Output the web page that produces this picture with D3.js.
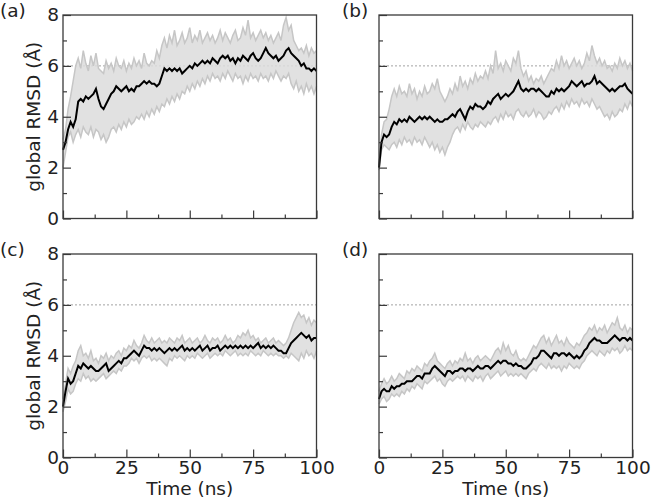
<!DOCTYPE html>
<html>
<head>
<meta charset="utf-8">
<script src="https://cdn.jsdelivr.net/npm/d3@7"></script>
<style>
  body { margin: 0; background: #fff; }
  svg { display: block; font-family: "DejaVu Sans", sans-serif; }
</style>
</head>
<body>
<svg id="chart" width="652" height="501"></svg>
<script>
// sampling grid, ns
const TIME = d3.range(0, 101);
const X_MAJOR = [0, 25, 50, 75, 100];
const X_MINOR = [12.5, 37.5, 62.5, 87.5];
const Y_MAJOR = [0, 2, 4, 6, 8];
const Y_MINOR = [1, 3, 5, 7];
const THRESHOLD = 6;
const LABELS = ["(a)", "(b)", "(c)", "(d)"];

// (a)
const meanA = [2.7,3.0,3.5,3.8,3.6,3.9,4.6,4.7,4.6,4.8,4.7,4.8,4.9,5.1,4.7,4.4,4.3,4.5,4.7,4.9,5.0,5.2,5.1,5.0,5.1,5.2,5.0,5.1,5.0,5.2,5.2,5.3,5.4,5.3,5.4,5.3,5.3,5.2,5.3,5.6,5.9,5.8,5.9,5.8,5.9,5.8,5.9,5.7,5.8,5.9,6.0,5.9,6.1,6.0,6.1,6.2,6.1,6.2,6.1,6.3,6.2,6.1,6.3,6.4,6.3,6.4,6.2,6.3,6.1,6.3,6.2,6.4,6.3,6.2,6.4,6.5,6.3,6.2,6.3,6.5,6.7,6.5,6.4,6.3,6.4,6.2,6.3,6.4,6.6,6.7,6.5,6.4,6.3,6.2,6.0,6.1,5.9,5.9,5.8,5.9,5.8];
const upperA = [3.1,3.5,4.3,4.8,5.4,6.0,6.3,5.9,6.6,6.1,5.8,6.4,6.0,6.5,5.9,5.8,5.7,6.2,5.9,6.1,5.8,6.3,6.0,5.9,6.2,5.8,6.1,5.9,6.3,6.0,6.2,5.9,6.5,6.1,6.0,6.2,6.1,6.6,6.3,6.8,7.1,6.7,7.2,6.9,7.4,6.8,7.0,7.3,6.9,7.1,7.5,6.9,7.2,7.0,7.4,6.9,7.1,7.3,7.0,7.2,6.9,7.1,7.4,7.0,7.3,7.1,6.9,7.2,7.4,7.0,7.1,7.5,7.2,7.8,7.1,7.3,7.0,7.2,7.4,7.1,7.3,7.0,7.2,6.9,7.1,7.3,7.0,7.6,7.9,7.4,7.6,7.0,6.8,6.6,6.7,6.5,6.8,6.4,6.7,6.5,6.6];
const lowerA = [2.0,2.6,3.2,3.4,3.0,3.3,3.5,3.2,3.6,3.4,3.3,3.6,3.2,3.5,3.4,3.1,3.3,3.0,3.2,3.5,3.6,3.4,3.7,3.5,3.8,3.6,3.9,3.7,3.8,4.0,3.9,4.1,3.9,4.2,4.0,4.3,4.1,4.4,4.2,4.5,4.4,4.7,4.5,4.8,4.6,4.9,4.7,5.0,4.9,5.2,5.0,5.3,5.1,5.4,5.2,5.5,5.3,5.6,5.4,5.7,5.5,5.6,5.4,5.7,5.5,5.8,5.6,5.4,5.7,5.5,5.6,5.3,5.6,5.4,5.7,5.5,5.6,5.4,5.7,5.5,5.6,5.4,5.7,5.5,5.8,5.6,5.4,5.6,5.5,5.7,5.3,5.1,5.4,5.0,5.2,4.9,5.3,5.0,5.2,4.9,5.2];

// (b)
const meanB = [2.0,3.0,3.3,3.2,3.3,3.6,3.8,3.7,3.9,3.8,3.9,3.8,4.0,3.9,3.8,3.9,4.0,3.9,4.0,3.9,4.0,3.9,3.8,3.9,3.8,3.8,3.9,3.9,4.0,4.1,4.0,4.2,4.3,4.1,3.9,4.2,4.4,4.3,4.5,4.4,4.4,4.3,4.4,4.6,4.5,4.7,4.8,4.9,4.7,4.8,4.9,4.8,4.9,5.0,5.2,5.4,5.1,5.0,5.1,5.0,5.1,5.1,5.0,5.1,5.0,4.9,4.8,4.8,5.0,4.9,5.1,5.0,5.1,5.0,5.1,5.2,5.4,5.3,5.2,5.3,5.4,5.2,5.3,5.3,5.4,5.6,5.3,5.4,5.3,5.2,5.1,5.0,5.1,5.0,5.1,5.2,5.2,5.3,5.1,5.0,4.9];
const upperB = [2.1,3.3,3.8,3.9,4.3,4.8,5.1,4.8,5.2,4.9,5.0,4.8,5.3,4.9,5.1,4.7,5.0,4.8,5.2,4.9,5.0,5.3,5.1,5.5,5.0,4.8,4.6,4.8,5.1,4.9,5.3,5.0,5.6,5.2,5.4,5.1,5.5,5.3,5.7,5.4,5.6,5.5,5.8,5.5,6.0,5.7,6.6,5.9,6.1,5.8,6.2,6.0,5.8,6.3,6.1,6.6,5.9,5.6,5.8,5.4,5.6,5.3,5.5,5.4,5.6,5.3,5.5,5.7,5.9,5.8,6.2,5.9,6.4,6.0,6.2,5.9,6.1,6.3,6.0,6.2,5.9,6.1,6.5,6.2,6.8,6.4,6.1,6.3,6.0,6.2,5.9,6.0,5.8,6.1,5.9,6.3,6.0,6.2,5.9,6.1,5.8];
const lowerB = [1.9,2.7,2.9,2.8,2.7,2.9,3.0,2.8,3.1,2.9,3.2,3.0,3.1,2.9,3.2,3.0,3.1,2.9,3.2,3.0,2.8,3.0,2.7,2.9,2.6,2.8,2.5,2.8,3.0,3.3,3.5,3.6,3.4,3.7,3.5,3.8,3.6,3.5,3.7,3.6,3.8,3.7,3.6,3.8,3.7,3.9,4.0,3.8,4.1,3.9,4.2,4.0,4.1,3.9,4.2,4.3,4.1,4.0,4.2,4.0,4.1,4.3,4.0,4.2,4.1,3.9,4.0,4.2,4.1,4.3,4.4,4.2,4.5,4.3,4.6,4.4,4.7,4.5,4.6,4.4,4.7,4.5,4.6,4.4,4.7,4.5,4.3,4.4,4.2,4.0,4.1,3.9,4.2,4.0,4.1,4.3,4.2,4.5,4.3,4.6,4.4];

// (c)
const meanC = [2.0,2.6,3.1,2.9,3.0,3.3,3.6,3.5,3.7,3.6,3.5,3.6,3.5,3.4,3.4,3.5,3.6,3.7,3.4,3.5,3.6,3.7,3.8,3.7,3.9,3.9,4.0,4.1,4.2,4.1,4.0,4.2,4.4,4.3,4.3,4.2,4.3,4.2,4.3,4.2,4.1,4.2,4.3,4.2,4.3,4.2,4.3,4.4,4.2,4.3,4.2,4.3,4.2,4.3,4.4,4.2,4.3,4.4,4.2,4.3,4.3,4.4,4.2,4.3,4.4,4.3,4.4,4.3,4.4,4.3,4.4,4.3,4.4,4.3,4.4,4.3,4.4,4.5,4.3,4.4,4.3,4.4,4.3,4.4,4.3,4.2,4.2,4.1,4.1,4.3,4.5,4.6,4.7,4.8,4.9,4.8,4.7,4.8,4.6,4.7,4.7];
const upperC = [2.3,2.9,3.5,3.3,3.6,3.8,4.2,4.4,4.0,4.1,3.9,4.2,3.8,3.9,3.7,4.0,3.9,4.1,3.8,4.0,3.9,4.1,4.2,4.0,4.3,4.2,4.4,4.3,4.6,4.4,4.3,4.5,4.8,4.6,4.5,4.7,4.5,4.6,4.7,4.5,4.6,4.5,4.7,4.6,4.5,4.7,4.6,4.8,4.5,4.6,4.7,4.5,4.6,4.7,4.5,4.6,4.8,4.6,4.5,4.7,4.6,4.7,4.5,4.6,4.8,4.6,4.7,4.5,4.6,4.8,4.7,4.9,4.8,5.0,4.7,4.8,4.6,4.7,4.5,4.6,4.7,4.5,4.6,4.7,4.5,4.6,4.5,4.4,4.5,4.7,5.0,5.3,5.5,5.7,5.5,5.6,5.3,5.5,5.2,5.4,5.3];
const lowerC = [1.8,2.2,2.7,2.5,2.6,2.9,3.1,3.0,3.3,3.1,3.2,3.0,3.1,3.0,3.1,3.2,3.3,3.1,3.2,3.3,3.4,3.3,3.5,3.4,3.6,3.6,3.7,3.9,3.8,3.9,3.7,3.9,4.0,3.9,4.0,3.8,3.9,3.8,3.9,3.8,3.7,3.6,3.9,3.8,4.0,3.9,4.0,3.9,3.8,4.0,3.9,4.0,3.9,4.1,4.0,3.9,4.0,4.1,3.9,4.0,4.1,4.0,4.1,4.0,4.2,4.1,4.0,4.1,4.2,4.0,4.1,4.0,4.1,4.0,4.2,4.1,4.0,4.1,4.0,4.2,4.1,4.0,4.1,4.0,4.1,4.0,4.0,3.9,4.0,3.9,4.1,4.0,3.9,3.8,4.1,3.9,4.2,4.0,4.1,3.9,4.2];

// (d)
const meanD = [2.3,2.6,2.7,2.6,2.6,2.8,2.7,2.8,2.8,2.9,2.9,3.0,3.0,3.0,3.1,3.2,3.2,3.1,3.3,3.3,3.3,3.5,3.6,3.5,3.4,3.3,3.2,3.4,3.4,3.3,3.4,3.4,3.5,3.5,3.4,3.5,3.5,3.4,3.5,3.6,3.5,3.5,3.6,3.6,3.5,3.6,3.7,3.8,3.7,3.8,3.8,3.7,3.7,3.6,3.7,3.6,3.6,3.5,3.5,3.6,3.7,3.9,3.9,4.0,4.2,4.2,4.1,4.0,3.9,4.1,4.1,4.0,4.1,4.1,4.0,4.1,4.0,3.9,4.0,3.9,4.0,4.2,4.3,4.5,4.6,4.7,4.6,4.6,4.5,4.5,4.5,4.6,4.7,4.8,4.7,4.6,4.7,4.7,4.6,4.7,4.6];
const upperD = [2.6,2.9,3.1,2.9,3.0,3.2,3.0,3.1,3.3,3.2,3.1,3.4,3.3,3.5,3.4,3.6,3.5,3.4,3.7,3.6,3.8,3.9,4.1,3.8,3.7,3.6,3.5,3.7,3.8,3.6,3.8,3.7,3.9,3.8,4.1,3.8,3.9,3.7,3.9,4.0,3.8,3.9,4.0,3.9,3.8,4.0,4.2,4.3,4.1,4.5,4.2,4.4,4.1,4.0,4.2,3.9,3.8,3.9,3.8,4.0,4.2,4.4,4.3,4.5,4.7,4.8,4.5,4.7,4.4,4.6,4.8,4.5,4.6,4.4,4.7,4.5,4.4,4.3,4.5,4.4,4.6,4.8,4.9,5.1,5.0,5.2,4.9,5.1,5.0,5.2,4.9,5.1,5.3,5.2,5.5,5.1,5.0,5.2,4.9,5.1,5.0];
const lowerD = [2.1,2.3,2.4,2.2,2.3,2.5,2.4,2.5,2.4,2.6,2.5,2.7,2.6,2.8,2.7,2.9,2.8,2.7,3.0,2.9,3.0,3.1,3.2,3.0,3.1,2.9,2.8,3.0,3.1,3.0,3.1,3.2,3.1,3.2,3.0,3.2,3.1,3.0,3.2,3.1,3.2,3.0,3.2,3.3,3.1,3.2,3.3,3.4,3.2,3.3,3.4,3.2,3.3,3.2,3.3,3.2,3.3,3.2,3.1,3.3,3.4,3.5,3.4,3.6,3.7,3.6,3.5,3.7,3.5,3.6,3.5,3.6,3.4,3.6,3.5,3.7,3.6,3.5,3.6,3.5,3.7,3.8,4.0,4.1,4.2,4.1,4.0,4.2,4.1,4.0,4.2,4.1,4.3,4.2,4.3,4.1,4.2,4.4,4.2,4.3,4.2];

const panels = [
  { label: LABELS[0], mean: meanA, upper: upperA, lower: lowerA, col: 0, row: 0 },
  { label: LABELS[1], mean: meanB, upper: upperB, lower: lowerB, col: 1, row: 0 },
  { label: LABELS[2], mean: meanC, upper: upperC, lower: lowerC, col: 0, row: 1 },
  { label: LABELS[3], mean: meanD, upper: upperD, lower: lowerD, col: 1, row: 1 },
];

const svg = d3.select("#chart");
const FONT = 18.5;
const COL_X = [63, 379];
const ROW_Y = [15, 254];
const PW = 253.5;
const PH = 203.5;

for (const p of panels) {
  const left = COL_X[p.col];
  const top = ROW_Y[p.row];
  const x = d3.scaleLinear([0, 100], [left, left + PW]);
  const y = d3.scaleLinear([0, 8], [top + PH, top]);
  const g = svg.append("g");

  // threshold line
  g.append("line")
    .attr("x1", x(0)).attr("x2", x(100))
    .attr("y1", y(THRESHOLD)).attr("y2", y(THRESHOLD))
    .attr("stroke", "#8a8a8a")
    .attr("stroke-width", 0.8)
    .attr("stroke-dasharray", "2,2");

  const band = d3.area()
    .x((d, i) => x(TIME[i]))
    .y0((d, i) => y(p.lower[i]))
    .y1((d, i) => y(p.upper[i]));

  g.append("path")
    .attr("d", band(TIME))
    .attr("fill", "#dcdcdc")
    .attr("fill-opacity", 0.85);

  const line = (vals) => d3.line().x((d, i) => x(TIME[i])).y((d) => y(d))(vals);

  for (const edge of [p.upper, p.lower]) {
    g.append("path")
      .attr("d", line(edge))
      .attr("fill", "none")
      .attr("stroke", "#c6c6c6")
      .attr("stroke-width", 1.5);
  }

  g.append("path")
    .attr("d", line(p.mean))
    .attr("fill", "none")
    .attr("stroke", "#000")
    .attr("stroke-width", 2)
    .attr("stroke-linejoin", "miter");

  // axes: inward ticks, labels only on the outer sides
  const showX = p.row === 1;
  const showY = p.col === 0;

  const xMajor = d3.axisBottom(x).tickValues(X_MAJOR).tickSize(-8).tickPadding(3)
    .tickFormat(showX ? d3.format("d") : () => "");
  const xMinor = d3.axisBottom(x).tickValues(X_MINOR).tickSize(-4).tickFormat(() => "");
  const yMajor = d3.axisLeft(y).tickValues(Y_MAJOR).tickSize(-8).tickPadding(4)
    .tickFormat(showY ? d3.format("d") : () => "");
  const yMinor = d3.axisLeft(y).tickValues(Y_MINOR).tickSize(-4).tickFormat(() => "");

  for (const [ax, isX] of [[xMajor, true], [xMinor, true], [yMajor, false], [yMinor, false]]) {
    const a = g.append("g")
      .attr("transform", isX ? `translate(0,${top + PH})` : `translate(${left},0)`)
      .call(ax);
    a.select(".domain").remove();
    a.selectAll("line").attr("stroke", "#3a3a3a").attr("stroke-width", 1.2);
    a.selectAll("text")
      .attr("font-family", "DejaVu Sans, sans-serif")
      .attr("font-size", FONT)
      .attr("fill", "#222");
  }

  // frame
  g.append("rect")
    .attr("x", left).attr("y", top)
    .attr("width", PW).attr("height", PH)
    .attr("fill", "none")
    .attr("stroke", "#3a3a3a")
    .attr("stroke-width", 1.3);

  svg.append("text")
    .attr("x", p.col === 0 ? 0 : 342)
    .attr("y", top + 1.5)
    .attr("font-size", FONT)
    .attr("fill", "#222")
    .text(p.label);

  if (showY) {
    svg.append("text")
      .attr("transform", `translate(40,${top + PH / 2}) rotate(-90)`)
      .attr("text-anchor", "middle")
      .attr("font-size", FONT)
      .attr("fill", "#222")
      .text("global RMSD (Å)");
  }
  if (showX) {
    svg.append("text")
      .attr("x", left + PW / 2)
      .attr("y", 495)
      .attr("text-anchor", "middle")
      .attr("font-size", FONT)
      .attr("fill", "#222")
      .text("Time (ns)");
  }
}
</script>
</body>
</html>
